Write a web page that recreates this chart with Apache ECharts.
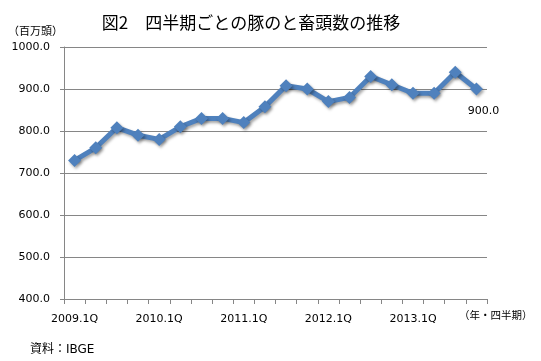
<!DOCTYPE html>
<html>
<head>
<meta charset="utf-8">
<script src="https://cdn.jsdelivr.net/npm/echarts@6/dist/echarts.min.js"></script>
<style>html,body{margin:0;padding:0;background:#fff;}#c{width:541px;height:361px;}</style>
</head>
<body>
<div id="c"></div>
<script>
const categories = ["2009.1Q","2009.2Q","2009.3Q","2009.4Q","2010.1Q","2010.2Q","2010.3Q","2010.4Q","2011.1Q","2011.2Q","2011.3Q","2011.4Q","2012.1Q","2012.2Q","2012.3Q","2012.4Q","2013.1Q","2013.2Q","2013.3Q","2013.4Q"];
const values = [730,760,808,790,780,810,830,830,820,858,908,900,870,880,930,910,890,890,940,900];
const yTicks = {min: 400, max: 1000, interval: 100};
const titleText = "図2\u3000四半期ごとの豚のと畜頭数の推移";
const yUnit = "（百万頭）";
const xUnit = "（年・四半期）";
const source = "資料：IBGE";

const FONT = "DejaVu Sans, 'Noto Sans CJK JP', sans-serif";
const chart = echarts.init(document.getElementById('c'), null, {renderer: 'canvas'});
chart.setOption({
  animation: false,
  backgroundColor: '#fff',
  title: {
    text: titleText, left: 246, top: 9, textAlign: 'center',
    textStyle: {fontFamily: "'Noto Sans CJK JP', sans-serif", fontSize: 17, fontWeight: 'normal', color: '#000'}
  },
  grid: {left: 64, right: 54, top: 47, bottom: 62},
  xAxis: {
    type: 'category', data: categories, boundaryGap: true,
    axisLine: {lineStyle: {color: '#868686', width: 1}},
    axisTick: {show: true, interval: 0, length: 5, lineStyle: {color: '#868686'}},
    axisLabel: {interval: 3, color: '#000', fontSize: 11, fontFamily: FONT, margin: 15}
  },
  yAxis: {
    type: 'value', min: yTicks.min, max: yTicks.max, interval: yTicks.interval,
    axisLine: {show: true, lineStyle: {color: '#868686', width: 1}},
    axisTick: {show: true, length: 4, lineStyle: {color: '#868686'}},
    splitLine: {lineStyle: {color: '#868686', width: 1}},
    axisLabel: {color: '#000', fontSize: 11, fontFamily: FONT, margin: 14,
      formatter: v => v.toFixed(1)}
  },
  graphic: [
    {type: 'text', left: 8, top: 27, style: {text: yUnit, fontSize: 11, fontFamily: FONT, fill: '#000'}},
    {type: 'text', left: 459, top: 311, style: {text: xUnit, fontSize: 10.5, fontFamily: FONT, fill: '#000'}},
    {type: 'text', left: 30, top: 344, style: {text: source, fontSize: 12, fontFamily: FONT, fill: '#000'}}
  ],
  series: [{
    type: 'line', data: values,
    symbol: 'diamond', symbolSize: 13,
    lineStyle: {color: '#4F81BD', width: 5, shadowColor: 'rgba(0,0,0,0.35)', shadowBlur: 3, shadowOffsetX: 1.5, shadowOffsetY: 2},
    itemStyle: {color: '#4F81BD', borderWidth: 0, shadowColor: 'rgba(0,0,0,0.35)', shadowBlur: 3, shadowOffsetX: 1.5, shadowOffsetY: 2},
    label: {
      show: true, position: 'bottom', distance: 10, offset: [7, 0], color: '#000', fontSize: 11, fontFamily: FONT,
      formatter: p => p.dataIndex === values.length - 1 ? p.value.toFixed(1) : ''
    }
  }]
});
</script>
</body>
</html>
